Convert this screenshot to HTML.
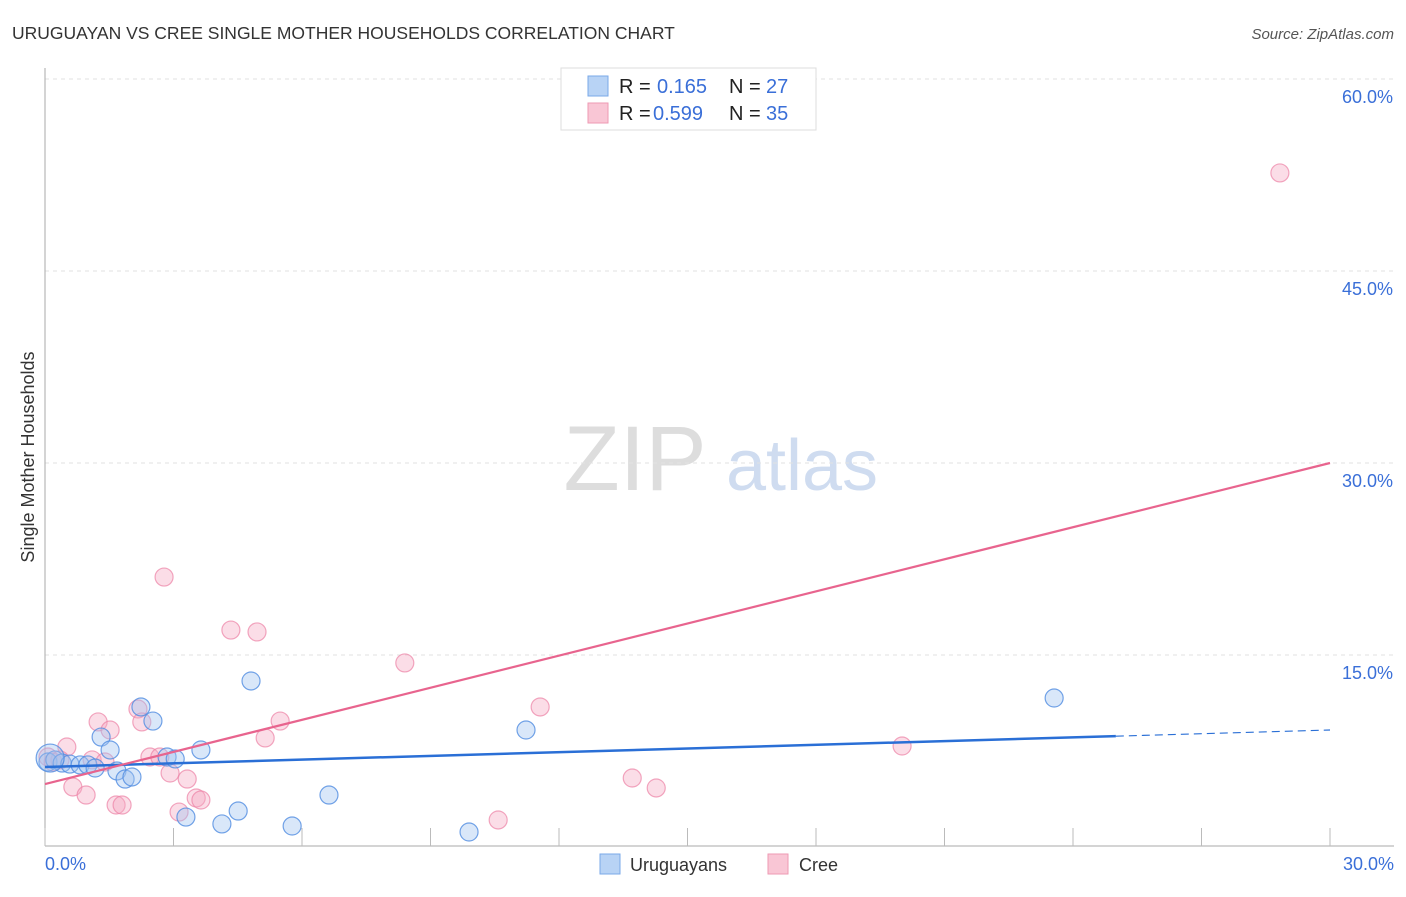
<!DOCTYPE html>
<html><head><meta charset="utf-8">
<style>
body{margin:0;background:#fff;font-family:"Liberation Sans",sans-serif;}
svg text{font-family:"Liberation Sans",sans-serif;}
</style></head>
<body>
<svg id="chart" width="1406" height="892" xmlns="http://www.w3.org/2000/svg">
<text x="12" y="39" font-size="17.5" fill="#333">URUGUAYAN VS CREE SINGLE MOTHER HOUSEHOLDS CORRELATION CHART</text>
<text x="1394" y="39" font-size="15" fill="#555" text-anchor="end" font-style="italic">Source: ZipAtlas.com</text>
<text x="34" y="457" font-size="18" fill="#333" text-anchor="middle" transform="rotate(-90 34 457)">Single Mother Households</text>
<g>
<text x="635" y="490" font-size="92" fill="#ddd" text-anchor="middle" font-family="Liberation Serif,serif">ZIP</text>
<text x="802" y="490" font-size="72" fill="#cfdcf0" text-anchor="middle">atlas</text>
</g>
<g id="grid"></g>
<g id="axes"></g>
<g id="marks"></g>
<g>
<rect x="561" y="68" width="255" height="62" fill="#fff" stroke="#ddd"/>
<rect x="588" y="76" width="20" height="20" fill="#b8d3f5" stroke="#7aa8e8"/>
<text x="619" y="93" font-size="20" fill="#222">R = </text><text x="657" y="93" font-size="20" fill="#3a6fd8">0.165</text>
<text x="729" y="93" font-size="20" fill="#222">N = </text><text x="766" y="93" font-size="20" fill="#3a6fd8">27</text>
<rect x="588" y="103" width="20" height="20" fill="#f9c6d5" stroke="#ee9ab3"/>
<text x="619" y="120" font-size="20" fill="#222">R = </text><text x="653" y="120" font-size="20" fill="#3a6fd8">0.599</text>
<text x="729" y="120" font-size="20" fill="#222">N = </text><text x="766" y="120" font-size="20" fill="#3a6fd8">35</text>
</g>
<g>
<rect x="600" y="854" width="20" height="20" fill="#b8d3f5" stroke="#7aa8e8"/>
<text x="630" y="871" font-size="18" fill="#333">Uruguayans</text>
<rect x="768" y="854" width="20" height="20" fill="#f9c6d5" stroke="#ee9ab3"/>
<text x="799" y="871" font-size="18" fill="#333">Cree</text>
</g>
</svg>
<script>
const yTicks=[15,30,45,60];
const yTickLabels=["15.0%","30.0%","45.0%","60.0%"];
const xTicks=[0,3,6,9,12,15,18,21,24,27,30];
const blueX=[0.07,0.23,0.40,0.58,0.82,1.00,1.17,1.31,1.52,1.68,1.87,2.03,2.24,2.52,2.85,3.04,3.64,3.29,4.13,4.51,4.81,5.77,6.63,9.90,11.23,23.56,0.12];
const blueY=[6.64,6.80,6.56,6.48,6.41,6.41,6.17,8.59,7.58,5.94,5.31,5.47,10.94,9.84,7.03,6.88,7.58,2.34,1.80,2.81,12.97,1.64,4.06,1.17,9.14,11.64,6.95];
const pinkX=[0.07,0.19,0.51,0.65,0.96,1.24,1.52,1.10,1.40,1.66,1.80,2.17,2.26,2.45,2.68,2.78,2.92,3.13,3.32,3.53,3.64,4.34,4.95,5.14,5.49,8.40,10.58,11.56,13.71,14.27,20.01,28.83,0.35];
const pinkY=[7.03,6.64,7.81,4.69,4.06,9.77,9.14,6.80,6.64,3.28,3.28,10.78,9.77,7.03,7.03,21.09,5.78,2.73,5.31,3.83,3.67,16.95,16.80,8.52,9.84,14.38,2.11,10.94,5.39,4.61,7.89,52.66,6.80];
const blueLine=[6.25,9.14];
const blueSolidEnd=25.0;
const pinkLine=[4.92,30.0];

const X=v=>45+v/30*1285;
const Y=v=>847-v/15*192;
const NS="http://www.w3.org/2000/svg";
function mk(tag,attrs,parent){const e=document.createElementNS(NS,tag);for(const k in attrs)e.setAttribute(k,attrs[k]);parent.appendChild(e);return e;}
const grid=document.getElementById('grid'),axes=document.getElementById('axes'),marks=document.getElementById('marks');
yTicks.forEach((t,i)=>{
  const l=mk('line',{x1:45,x2:1394,y1:Y(t),y2:Y(t),stroke:'#e2e2e2','stroke-dasharray':'4,4'},grid);
  
  
  const tx=mk('text',{x:1393,y:Y(t)+24,'font-size':18,fill:'#3a6fd8','text-anchor':'end'},axes);
  tx.textContent=yTickLabels[i];
  
  
});
const ax=mk('line',{x1:45,x2:45,y1:68,y2:846,stroke:'#aaa'},axes);


const bx=mk('line',{x1:45,x2:1394,y1:846,y2:846,stroke:'#aaa'},axes);


xTicks.forEach(t=>{
  const l=mk('line',{x1:X(t),x2:X(t),y1:828,y2:846,stroke:'#bbb'},axes);
  
  
});
const xl=mk('text',{x:45,y:870,'font-size':18,fill:'#3a6fd8'},axes);xl.textContent='0.0%';


const xr=mk('text',{x:1394,y:870,'font-size':18,fill:'#3a6fd8','text-anchor':'end'},axes);xr.textContent='30.0%';



pinkX.forEach((x,i)=>{
  const c=mk('circle',{cx:X(x),cy:Y(pinkY[i]),r:9,fill:'rgba(246,170,195,0.4)',stroke:'rgba(236,130,165,0.7)','stroke-width':1.2},marks);
  
  
});
blueX.forEach((x,i)=>{
  const r=(i===blueX.length-1)?14:9;
  const c=mk('circle',{cx:X(x),cy:Y(blueY[i]),r:r,fill:'rgba(160,195,240,0.4)',stroke:'rgba(80,140,225,0.8)','stroke-width':1.2},marks);
  
  
});
const by=x=>blueLine[0]+(blueLine[1]-blueLine[0])*x/30;
const b1=mk('line',{x1:X(0),y1:Y(by(0)),x2:X(blueSolidEnd),y2:Y(by(blueSolidEnd)),stroke:'#2a6fd6','stroke-width':2.5},marks);


const b2=mk('line',{x1:X(blueSolidEnd),y1:Y(by(blueSolidEnd)),x2:X(30),y2:Y(by(30)),stroke:'#2a6fd6','stroke-width':1.2,'stroke-dasharray':'8,5'},marks);


const p1=mk('line',{x1:X(0),y1:Y(pinkLine[0]),x2:X(30),y2:Y(pinkLine[1]),stroke:'#e8648e','stroke-width':2.2},marks);


</script>
</body></html>
